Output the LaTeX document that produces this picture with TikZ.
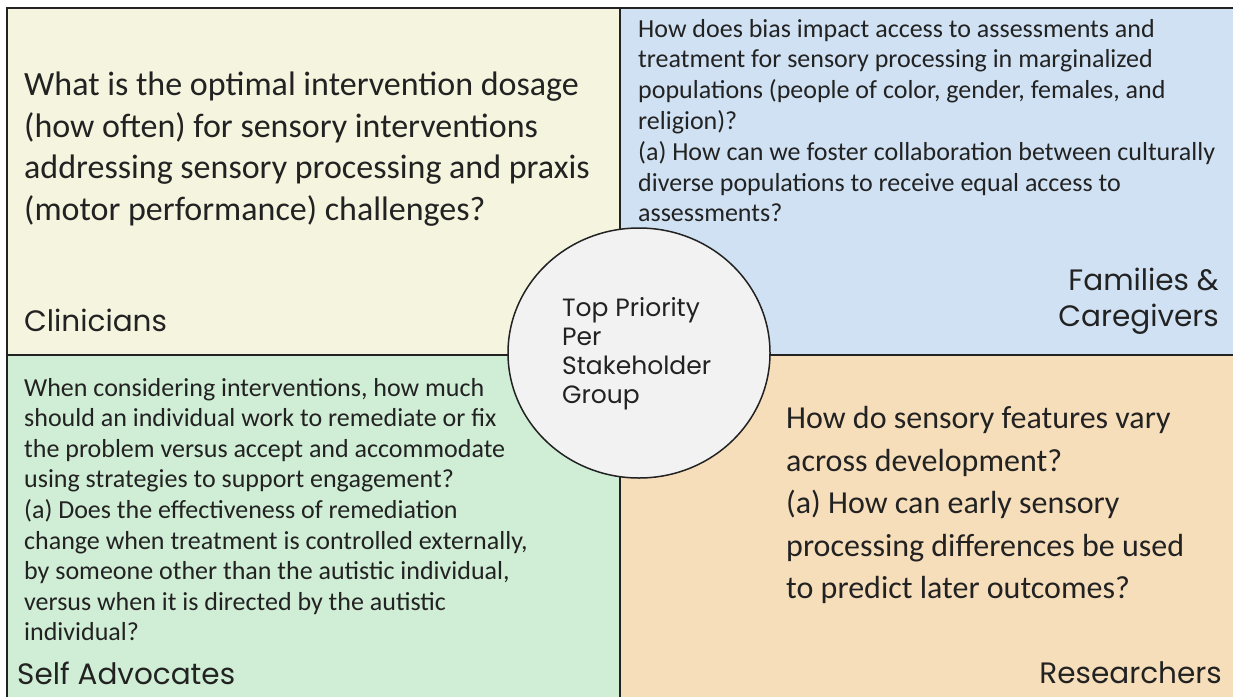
\documentclass[tikz,border=0pt]{standalone}
\usepackage{fontspec}
\setmainfont{Carlito}
\newfontfamily\labelfont{Poppins}
\usetikzlibrary{shapes.geometric}

\definecolor{clinbg}{HTML}{F5F4DE}
\definecolor{fambg}{HTML}{CFE1F2}
\definecolor{selfbg}{HTML}{D0EDD5}
\definecolor{resbg}{HTML}{F6DEBB}
\definecolor{hubbg}{HTML}{F2F2F2}
\definecolor{ink}{HTML}{222222}

\begin{document}
\begin{tikzpicture}[x=1pt,y=-1pt,
  question/.style={anchor=west, align=left, text=ink, inner sep=0pt},
  group/.style={text=ink, inner sep=0pt, font=\labelfont\fontsize{29.5}{36}\selectfont}]
\useasboundingbox (0,0) rectangle (1233,696);
\clip (0,0) rectangle (1233,696);
\fill[white] (0,0) rectangle (1233,696);

% four quadrants
\fill[clinbg] (7,8) rectangle (620,355);
\fill[fambg] (620,8) rectangle (1245,355);
\fill[selfbg] (7,355) rectangle (620,710);
\fill[resbg] (620,355) rectangle (1245,710);
\draw[ink, line width=2pt] (7,8) rectangle (1245,710);
\draw[ink, line width=1.6pt] (620,8) -- (620,710);
\draw[ink, line width=1.6pt] (7,355) -- (1245,355);

% questions
\node[question, font=\fontsize{34}{41.5}\selectfont] (clinq) at (24,149)
  {What is the optimal intervention dosage\\(how often) for sensory interventions\\addressing sensory processing and praxis\\(motor performance) challenges?};
\node[question, font=\fontsize{26}{30.8}\selectfont] (famq) at (638,120.5)
  {How does bias impact access to assessments and\\treatment for sensory processing in marginalized\\populations (people of color, gender, females, and\\religion)?\\(a) How can we foster collaboration between culturally\\diverse populations to receive equal access to\\assessments?};
\node[question, font=\fontsize{26}{30.6}\selectfont] (selfq) at (24,509.5)
  {When considering interventions, how much\\should an individual work to remediate or fix\\the problem versus accept and accommodate\\using strategies to support engagement?\\(a) Does the effectiveness of remediation\\change when treatment is controlled externally,\\by someone other than the autistic individual,\\versus when it is directed by the autistic\\individual?};
\node[question, font=\fontsize{32}{42.5}\selectfont] (resq) at (786,505)
  {How do sensory features vary\\across development?\\(a) How can early sensory\\processing differences be used\\to predict later outcomes?};

% stakeholder names
\node[group, anchor=west] (clin) at (24,320) {Clinicians};
\node[group, anchor=east, align=right] (fam) at (1219,301) {Families \&\\Caregivers};
\node[group, anchor=west] (self) at (17,673) {Self Advocates};
\node[group, anchor=east] (res) at (1222,673) {Researchers};

% centre circle
\node[ellipse, draw=ink, line width=1.5pt, fill=hubbg, minimum width=262, minimum height=250, inner sep=0pt] (hub) at (639,353) {};
\node[anchor=west, align=left, text=ink, inner sep=0pt, font=\labelfont\fontsize{25}{29}\selectfont] (hubtext) at (562,353.5)
  {Top Priority\\Per\\Stakeholder\\Group};
\end{tikzpicture}
\end{document}
